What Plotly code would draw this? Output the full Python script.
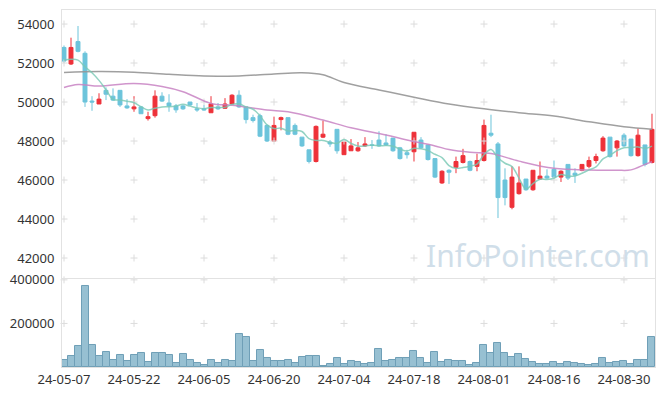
import plotly.graph_objects as go
from plotly.subplots import make_subplots

dates = (
    ["24-05-07","24-05-08","24-05-09","24-05-10","24-05-13","24-05-14","24-05-16","24-05-17","24-05-20","24-05-21",
     "24-05-22","24-05-23","24-05-24","24-05-27","24-05-28","24-05-29","24-05-30","24-05-31",
     "24-06-03","24-06-04","24-06-05","24-06-07","24-06-10","24-06-11","24-06-12","24-06-13","24-06-14","24-06-17",
     "24-06-18","24-06-19","24-06-20","24-06-21","24-06-24","24-06-25","24-06-26","24-06-27","24-06-28",
     "24-07-01","24-07-02","24-07-03","24-07-04","24-07-05","24-07-08","24-07-09","24-07-10","24-07-11","24-07-12",
     "24-07-15","24-07-16","24-07-17","24-07-18","24-07-19","24-07-22","24-07-23","24-07-24","24-07-25","24-07-26",
     "24-07-29","24-07-30","24-07-31",
     "24-08-01","24-08-02","24-08-05","24-08-06","24-08-07","24-08-08","24-08-09","24-08-12","24-08-13","24-08-14",
     "24-08-16","24-08-19","24-08-20","24-08-21","24-08-22","24-08-23","24-08-26","24-08-27","24-08-28","24-08-29",
     "24-08-30","24-09-02","24-09-03","24-09-04","24-09-05"]
)

opens = [52800,51950,53100,52500,50050,49900,50600,50300,50600,49800,
         49650,49750,49150,49300,50300,49950,49800,49800,50000,49650,
         49650,49450,49750,49680,49900,50350,49750,49200,49300,48800,
         48000,49100,49200,48800,48200,47550,46950,48200,47950,48600,
         47300,47500,47500,47750,47800,48050,47900,48150,47650,47400,
         47450,48050,47800,47100,45850,46500,46650,46900,46950,46700,
         47000,48400,47850,46000,44600,45300,46050,45500,46050,46200,
         46550,46150,46800,46350,46500,46700,47000,47500,48200,47650,
         48300,48100,47250,47800,46900]
highs = [52900,53300,53900,52600,50300,50450,50750,50700,50600,50150,
         50300,49800,49500,50600,50500,50400,49900,49850,50000,49950,
         49850,50300,49950,50200,50400,50600,49750,49350,49400,48850,
         49250,49250,49200,48900,48200,47550,48800,49050,48050,48600,
         47950,48100,47950,48200,48050,48500,48350,48150,47700,47550,
         48450,48200,47800,47100,46500,46550,47200,47600,47000,47350,
         49100,49350,47950,46600,46700,46700,46050,46500,46950,46550,
         47000,46500,46800,46600,46800,47200,47350,48250,48200,48050,
         48400,48100,48650,47800,49400]
lows = [52000,51900,52550,49750,49550,49900,50100,50050,49750,49650,
        49500,49400,49050,49200,50000,49500,49450,49600,49800,49500,
        49550,49450,49600,49650,49880,49700,48900,48950,48200,47950,
        47950,48550,48300,48300,47700,46850,46900,48150,47700,47350,
        47300,47500,47450,47700,47600,47700,47750,47450,47050,47100,
        46950,47600,47000,46100,45800,45800,46350,46850,46450,46450,
        46950,48200,44050,44700,44500,45250,45450,45450,46000,46050,
        46100,45900,46000,45850,46450,46600,46850,47450,47150,47200,
        47700,47200,47200,46700,46850]
closes = [52100,52800,52600,50000,50000,50150,50400,50100,49850,49700,
          49750,49400,49250,50300,50050,49800,49600,49650,49850,49600,
          49600,49900,49650,49900,50350,49750,49100,49050,48250,48000,
          48800,49200,48350,48350,47750,46950,48750,48350,47850,47500,
          47950,47750,47650,47850,47780,47750,47800,47500,47100,47300,
          48450,47650,47050,46150,46450,46400,46950,47250,46500,47000,
          48800,48300,45100,45100,46150,45850,45500,46500,46200,46100,
          46150,46450,46100,46250,46800,47000,47200,48150,47200,48000,
          47750,47250,48300,46800,48600]
volumes = [34000,49300,98600,371800,103200,49300,70900,34000,57100,29500,
           57100,66300,24900,63100,66300,57100,20300,61700,34000,20300,
           11000,34000,20300,34000,29500,149300,135500,29500,80200,43300,
           29500,29500,34000,20300,47900,52500,52500,6500,15700,43300,
           15700,29500,24900,15700,20300,84600,29500,34000,43300,43300,
           75400,43300,20300,70900,24900,34000,29500,29500,11000,20300,
           103200,66300,112300,66300,47900,61700,38700,24900,15700,15700,
           24900,15700,24900,20300,15700,11000,15700,43300,20300,24900,
           29500,15700,34000,34000,140000]

ma5 = [52150,52190,52150,51810,51500,51110,50630,50130,50100,50040,
       49960,49760,49590,49680,49750,49760,49800,49880,49790,49700,
       49660,49720,49720,49730,49880,49910,49750,49630,49300,48830,
       48640,48660,48520,48540,48490,48120,48030,48030,47930,47880,
       48080,47880,47740,47740,47796,47756,47766,47736,47586,47490,
       47630,47600,47510,47320,47150,46740,46600,46640,46710,46820,
       47300,47570,47140,46860,46690,46100,45540,45820,46040,46030,
       46090,46280,46200,46210,46350,46520,46670,47080,47270,47510,
       47660,47670,47700,47620,47740]

ma20_idx = [0, 2, 5, 10, 14, 17, 21, 24, 29, 32, 37, 41, 46, 49, 53, 55, 58, 61, 65, 70, 75, 79, 81, 83, 84]
ma20_val = [50750, 50900, 50820, 50950, 50800, 50530, 49930, 49830, 49590, 49500, 49077, 48680, 48310, 48050,
            47750, 47560, 47420, 47360, 46970, 46600, 46510, 46500, 46520, 46800, 46940]
ma60_idx = [0, 5, 10, 15, 20, 25, 30, 34, 37, 40, 45, 50, 55, 60, 65, 70, 75, 80, 84]
ma60_val = [51520, 51560, 51530, 51420, 51330, 51340, 51440, 51500, 51400, 51000, 50620, 50250, 49900, 49650,
            49450, 49280, 48990, 48730, 48600]

price_ticks = [42000, 44000, 46000, 48000, 50000, 52000, 54000]
vol_ticks = [200000, 400000]
x_ticks = [dates[i] for i in range(0, len(dates), 10)]

UP = "#ee3139"
DOWN = "#6cc4db"
GRID = "#dcdcdc"
TXT = "#333333"
FONT = "Noto Sans"

fig = make_subplots(rows=2, cols=1, shared_xaxes=True, vertical_spacing=0.0)

# plus-shaped grid marks at tick intersections
gx = [x for x in x_ticks for _ in price_ticks]
gy = [y for _ in x_ticks for y in price_ticks]
fig.add_trace(go.Scatter(x=gx, y=gy, mode="markers", hoverinfo="skip", showlegend=False,
                         marker=dict(symbol="cross-thin", size=5, line=dict(color=GRID, width=1))),
              row=1, col=1)
vx = [x for x in x_ticks for _ in vol_ticks]
vy = [y for _ in x_ticks for y in vol_ticks]
fig.add_trace(go.Scatter(x=vx, y=vy, mode="markers", hoverinfo="skip", showlegend=False, cliponaxis=False,
                         marker=dict(symbol="cross-thin", size=5, line=dict(color=GRID, width=1))),
              row=2, col=1)

fig.add_trace(go.Scatter(x=[dates[i] for i in ma60_idx], y=ma60_val, mode="lines", showlegend=False,
                         line=dict(color="rgba(150,150,150,0.9)", width=1.5, shape="spline")), row=1, col=1)
fig.add_trace(go.Scatter(x=[dates[i] for i in ma20_idx], y=ma20_val, mode="lines", showlegend=False,
                         line=dict(color="rgba(200,130,195,0.85)", width=1.5, shape="spline")), row=1, col=1)
fig.add_trace(go.Scatter(x=dates, y=ma5, mode="lines", showlegend=False,
                         line=dict(color="rgba(120,200,180,0.8)", width=1.5, shape="spline")), row=1, col=1)

fig.add_trace(go.Candlestick(x=dates, open=opens, high=highs, low=lows, close=closes, showlegend=False,
                             whiskerwidth=0,
                             increasing=dict(line=dict(color=UP, width=1), fillcolor=UP),
                             decreasing=dict(line=dict(color=DOWN, width=1), fillcolor=DOWN)),
              row=1, col=1)

fig.add_trace(go.Bar(x=dates, y=volumes, showlegend=False,
                     marker=dict(color="rgba(140,185,205,0.9)", line=dict(color="#6f9fb7", width=1))),
              row=2, col=1)

xr = [-0.2857, len(dates) - 1 + 0.43]
axis_common = dict(type="category", categoryorder="array", categoryarray=dates, range=xr, automargin=False,
                   showgrid=False, zeroline=False, showline=True, linecolor="#e2e2e2", linewidth=1, mirror=True)
fig.update_xaxes(**axis_common)
fig.update_xaxes(showticklabels=False, rangeslider_visible=False, row=1, col=1)
fig.update_xaxes(tickmode="array", tickvals=x_ticks, ticktext=x_ticks, ticks="",
                 tickfont=dict(family=FONT, size=13, color=TXT), row=2, col=1)

fig.update_yaxes(showgrid=False, zeroline=False, showline=True, linecolor="#e2e2e2", linewidth=1, mirror=True,
                 automargin=False, ticks="", tickfont=dict(family=FONT, size=13, color=TXT), ticklabelstandoff=4)
fig.update_yaxes(range=[40975, 54720], tickvals=price_ticks, ticktext=[str(v) for v in price_ticks],
                 domain=[0.2493, 1.0], row=1, col=1)
fig.update_yaxes(range=[0, 404000], tickvals=vol_ticks, ticktext=[str(v) for v in vol_ticks],
                 domain=[0.0, 0.2465], row=2, col=1)

fig.add_annotation(text="InfoPointer.com", xref="paper", yref="paper", x=0.803, y=0.313,
                   xanchor="center", yanchor="middle",
                   showarrow=False, font=dict(family=FONT, size=30, color="#d0dee9"))

fig.update_layout(width=665, height=396, margin=dict(l=62, r=10, t=10, b=29, autoexpand=False),
                  paper_bgcolor="white", plot_bgcolor="white", bargap=0, boxgap=0.2, showlegend=False)

fig.write_html("out.html", config={"displayModeBar": False},
               post_script="document.body.style.margin='0';")
